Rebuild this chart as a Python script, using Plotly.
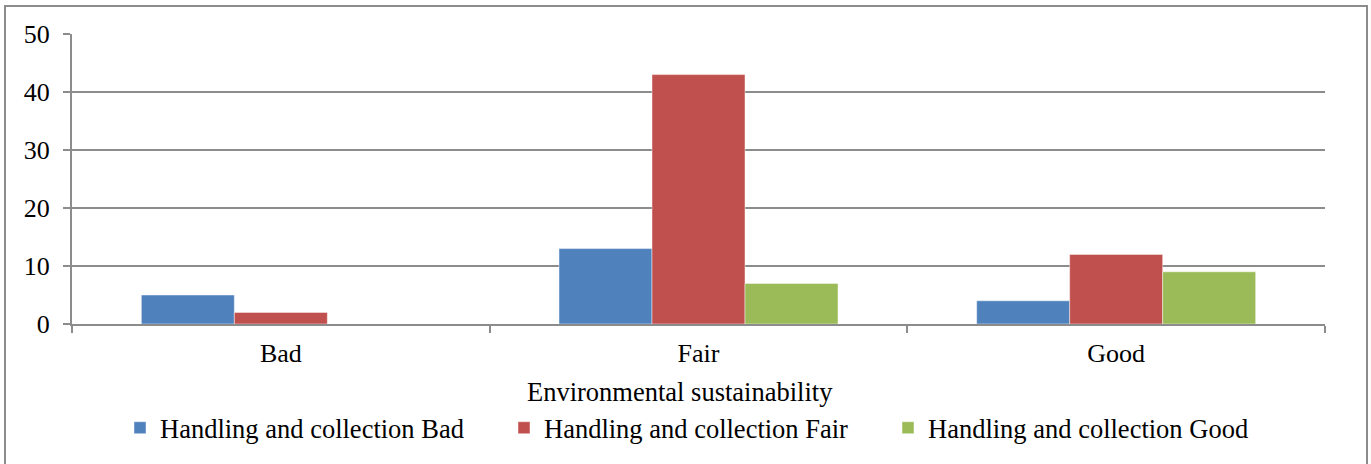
import plotly.graph_objects as go

# Data
categories = ["Bad", "Fair", "Good"]
series_names = [
    "Handling and collection Bad",
    "Handling and collection Fair",
    "Handling and collection Good",
]
handling_bad = [5, 13, 4]
handling_fair = [2, 43, 12]
handling_good = [0, 7, 9]
y_ticks = [0, 10, 20, 30, 40, 50]

colors = ["#4F81BD", "#C0504D", "#9BBB59"]
FONT = "Liberation Serif, Times New Roman, serif"
GRID = "#8C8C8C"

W, H = 1371, 464
L, R, T, B = 72, 46, 34, 140
pw, ph = W - L - R, H - T - B


def px_x(x):
    return (x - L) / pw


def px_y(y):
    return (H - B - y) / ph


fig = go.Figure()
for name, vals, col in zip(series_names, [handling_bad, handling_fair, handling_good], colors):
    fig.add_trace(go.Bar(
        x=categories, y=vals, name=name,
        marker=dict(color=col, line=dict(color="rgba(255,255,255,0.45)", width=1)),
    ))

fig.update_layout(
    width=W, height=H,
    margin=dict(l=L, r=R, t=T, b=B, pad=0),
    paper_bgcolor="white", plot_bgcolor="white",
    barmode="group", bargap=0.332, bargroupgap=0,
    font=dict(family=FONT, color="black", size=26),
    showlegend=True,
    legend=dict(
        orientation="h", x=px_x(120), xanchor="left", y=px_y(428), yanchor="middle",
        font=dict(family=FONT, size=26.5, color="black"),
        entrywidth=339, entrywidthmode="pixels", itemwidth=30,
        bgcolor="rgba(0,0,0,0)", traceorder="normal",
    ),
    xaxis=dict(
        type="category", showgrid=False, tickson="boundaries",
        ticks="outside", ticklen=7, tickwidth=2, tickcolor=GRID,
        showline=True, linecolor=GRID, linewidth=2,
        tickfont=dict(family=FONT, size=26, color="black"),
        ticklabelstandoff=5,
    ),
    yaxis=dict(
        range=[0, 50], tickvals=y_ticks, showgrid=True, gridcolor=GRID, gridwidth=2,
        ticks="outside", ticklen=7, tickwidth=2, tickcolor=GRID,
        showline=True, linecolor=GRID, linewidth=2, zeroline=False,
        tickfont=dict(family=FONT, size=26, color="black"),
        ticklabelstandoff=8,
    ),
    annotations=[dict(
        text="Environmental sustainability", xref="paper", yref="paper",
        x=px_x(679.5), y=px_y(392), xanchor="center", yanchor="middle",
        showarrow=False, font=dict(family=FONT, size=26.5, color="black"),
    )],
    shapes=[dict(
        type="rect", xref="paper", yref="paper",
        x0=px_x(5), x1=px_x(1367), y0=px_y(467), y1=px_y(6),
        line=dict(color="#8C8C8C", width=2), layer="below",
    )],
)

fig.write_html("out.html")
